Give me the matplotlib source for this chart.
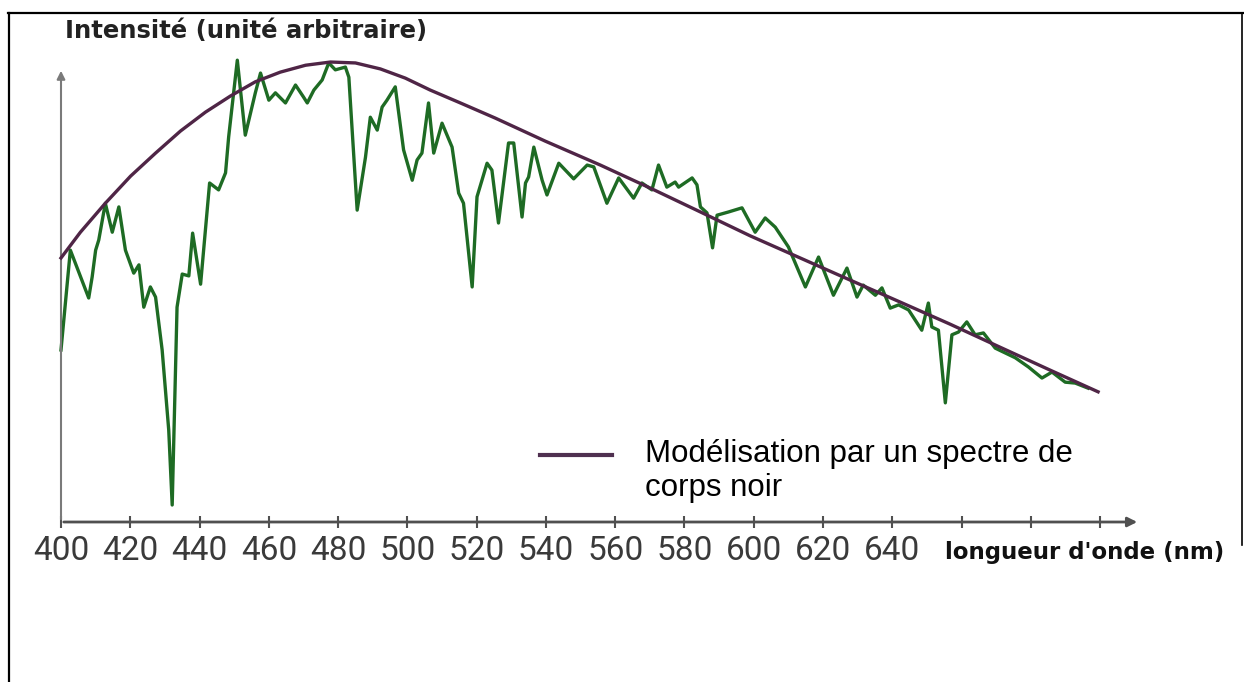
import matplotlib.pyplot as plt
from matplotlib.lines import Line2D

# spectre mesuré (longueur d'onde en nm, intensité en unité arbitraire)
wl_spectre = [400, 402.7, 408.0, 409.0, 410.0, 410.9, 412.8, 414.8, 416.7, 418.6,
              421.0, 422.5, 423.9, 425.8, 427.3, 429.2, 431.1, 432.1, 433.5, 435.0,
              436.9, 438.0, 440.3, 442.9, 445.5, 447.5, 448.4, 450.9, 453.2, 456.1,
              457.6, 460.0, 461.9, 464.8, 467.7, 470.0, 471.1, 473.0, 475.4, 477.3,
              479.2, 482.1, 483.1, 485.5, 487.9, 489.3, 491.3, 492.7, 494.1, 496.5,
              498.9, 501.4, 502.8, 504.2, 506.1, 507.6, 510.0, 512.9, 514.8, 516.2,
              518.7, 520.1, 523.0, 524.4, 526.3, 529.2, 530.7, 533.1, 534.1, 535.0,
              536.5, 538.9, 540.3, 543.7, 548.0, 551.9, 553.8, 557.6, 561.0, 565.3,
              567.7, 570.6, 572.5, 574.9, 577.3, 578.3, 582.2, 583.6, 584.6, 586.5,
              588.1, 589.4, 592.7, 596.6, 600.4, 603.3, 606.2, 610.0, 614.9, 618.7,
              623.0, 626.9, 629.8, 631.6, 635.1, 637.0, 639.4, 641.8, 644.7, 648.5,
              650.4, 651.4, 653.3, 655.3, 657.2, 659.1, 661.5, 663.9, 666.3, 669.7,
              675.5, 679.3, 683.2, 686.1, 689.9, 692.8, 696.5]
int_spectre = [37.4, 59.1, 48.7, 53.3, 59.1, 61.3, 69.3, 63.0, 68.5, 59.1,
               54.1, 55.9, 46.7, 51.1, 48.9, 37.4, 20.0, 3.7, 46.7, 53.9,
               53.5, 62.8, 51.7, 73.7, 72.2, 75.9, 83.7, 100.4, 84.1, 93.3,
               97.6, 91.7, 93.3, 91.1, 95.0, 92.4, 91.1, 93.9, 96.1, 99.8,
               98.3, 98.9, 96.7, 67.8, 79.3, 88.0, 85.2, 90.2, 91.7, 94.6,
               80.9, 74.3, 78.7, 80.2, 91.1, 80.2, 86.7, 81.5, 71.5, 69.3,
               51.1, 70.7, 78.0, 76.5, 65.0, 82.4, 82.4, 66.3, 73.7, 75.0,
               81.5, 74.3, 71.1, 78.0, 74.6, 77.6, 77.2, 69.3, 74.8, 70.4,
               73.7, 72.2, 77.6, 72.8, 73.9, 72.8, 74.8, 73.3, 68.5, 67.2,
               59.6, 66.7, 67.4, 68.3, 63.0, 66.1, 64.1, 59.8, 51.1, 57.6,
               49.3, 55.2, 48.9, 51.5, 49.3, 50.9, 46.5, 47.2, 46.1, 41.7,
               47.6, 42.4, 41.7, 25.9, 40.7, 41.3, 43.5, 40.7, 41.1, 37.8,
               35.7, 33.7, 31.3, 32.6, 30.4, 30.2, 29.1]

# modélisation corps noir
wl_modele = [400, 405.6, 412.8, 420.1, 427.3, 434.5, 441.7, 448.9, 456.1, 463.3,
             470.6, 477.8, 485.0, 492.2, 499.4, 506.6, 515.3, 525.4, 539.8, 555.7,
             570.1, 584.6, 599.0, 613.4, 627.8, 642.3, 656.7, 671.1, 685.6, 699.4]
int_modele = [57.4, 63.0, 69.3, 75.2, 80.2, 85.0, 89.1, 92.6, 95.7, 97.8,
              99.3, 100.0, 99.8, 98.5, 96.5, 93.9, 91.1, 87.8, 82.8, 77.6,
              72.6, 67.4, 62.2, 57.4, 52.6, 47.8, 43.0, 38.0, 33.0, 28.3]

ticks = [400, 420, 440, 460, 480, 500, 520, 540, 560, 580, 600, 620, 640, 660, 680, 700]
tick_labels = ["400", "420", "440", "460", "480", "500", "520", "540", "560", "580",
               "600", "620", "640", "", "", ""]

W, H = 1244, 682
fig = plt.figure(figsize=(W / 100, H / 100), dpi=100)
ax = fig.add_axes([61 / W, 160 / H, (1140 - 61) / W, 454 / H])
ax.set_xlim(400, 711.5)
ax.set_ylim(0, 98.7)

ax.plot(wl_spectre, int_spectre, color="#1e6b24", lw=2.4, clip_on=False, zorder=3)
ax.plot(wl_modele, int_modele, color="#4f2546", lw=2.4, clip_on=False, zorder=4,
        solid_joinstyle="round")

for s in ax.spines.values():
    s.set_visible(False)
ax.annotate("", xy=(1, 0), xytext=(0, 0), xycoords="axes fraction",
            arrowprops=dict(arrowstyle="-|>", color="#505050", lw=2, mutation_scale=14))
ax.annotate("", xy=(0, 1), xytext=(0, 0), xycoords="axes fraction",
            arrowprops=dict(arrowstyle="-|>", color="#7a7a7a", lw=1.5, mutation_scale=12))

ax.set_yticks([])
ax.set_xticks(ticks)
ax.set_xticklabels(tick_labels)
ax.tick_params(axis="x", direction="inout", length=8, width=1.5, color="#505050",
               pad=5, labelsize=24, labelcolor="#3a3a3a")
for lbl in ax.get_xticklabels():
    lbl.set_family(["Roboto", "DejaVu Sans"])

fig.text(945 / W, 1 - 553 / H, "longueur d'onde (nm)", fontsize=16.5, fontweight="bold",
         color="#111111", va="center", ha="left")
fig.text(65 / W, 1 - 31 / H, "Intensité (unité arbitraire)", fontsize=17.5,
         fontweight="bold", color="#222222", va="center", ha="left")

# légende
fig.add_artist(Line2D([540 / W, 612 / W], [1 - 455 / H, 1 - 455 / H], color="#4f3050", lw=3))
fig.text(645 / W, 1 - 471 / H, "Modélisation par un spectre de\ncorps noir",
         family=["Liberation Sans", "DejaVu Sans"], fontsize=22.5, color="black",
         va="center", ha="left", linespacing=1.15)

# cadre
fig.add_artist(Line2D([8 / W, 1], [1 - 13 / H, 1 - 13 / H], color="black", lw=1.6))
fig.add_artist(Line2D([9 / W, 9 / W], [0, 1 - 13 / H], color="black", lw=1.6))
fig.add_artist(Line2D([1242 / W, 1242 / W], [1 - 545 / H, 1 - 13 / H], color="black", lw=1.2))

fig.savefig("out.png", dpi=100)
